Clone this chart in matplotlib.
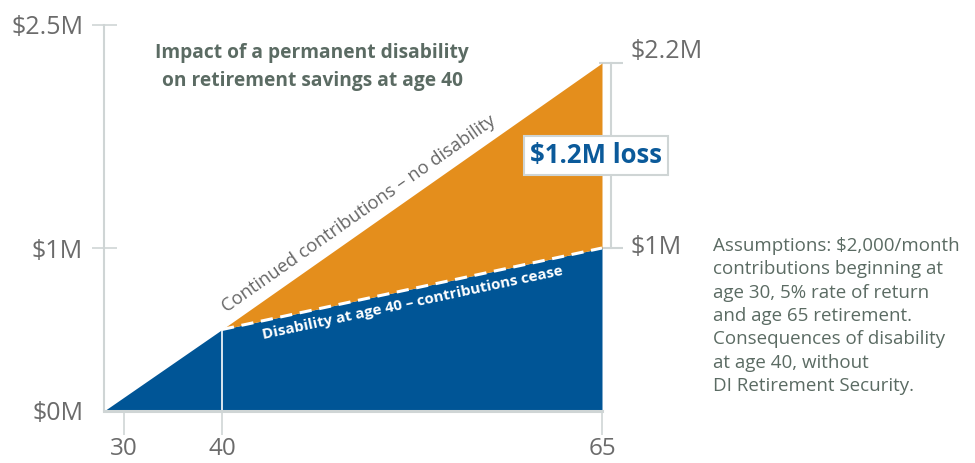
import numpy as np
import matplotlib
matplotlib.use("Agg")
import matplotlib.pyplot as plt
from matplotlib import transforms

plt.rcParams['font.family'] = ['Open Sans', 'DejaVu Sans']

# savings in $ millions by age
ages = [28, 40, 65]              # area starts at the axis origin
no_disability = [0.0, 0.5, 2.2]
with_disability = [0.0, 0.5, 1.0]
loss_label = '$1.2M loss'

x_ticks = [30, 40, 65]
y_ticks = [0, 1, 2.5]
y_tick_labels = ['$0M', '$1M', '$2.5M']
right_ticks = [1.0, 2.2]
right_labels = ['$1M', '$2.2M']

title = 'Impact of a permanent disability\non retirement savings at age 40'
top_label = 'Continued contributions \u2013 no disability'
bottom_label = 'Disability at age 40 \u2013 contributions cease'
note = ('Assumptions: $2,000/month\ncontributions beginning at\nage 30, 5% rate of return\n'
        'and age 65 retirement.\nConsequences of disability\nat age 40, without\n'
        'DI Retirement Security.')

BLUE = '#005596'
ORANGE = '#E48E1C'
GRID = '#cfd5d5'
LABEL = '#6b6b6b'
GREEN_GREY = '#5b6b63'

# the artwork is not drawn to a linear scale -> piecewise scales
age_knots, age_pos = [28, 40, 65], [0, 118, 498]
val_knots, val_pos = [0, 1, 2.2, 2.5], [0, 163, 348, 386]


def piecewise(xk, yk):
    xk = np.asarray(xk, float)
    yk = np.asarray(yk, float)
    s0 = (yk[1] - yk[0]) / (xk[1] - xk[0])
    s1 = (yk[-1] - yk[-2]) / (xk[-1] - xk[-2])

    def f(v):
        v = np.asarray(v, float)
        out = np.interp(v, xk, yk)
        out = np.where(v < xk[0], yk[0] + (v - xk[0]) * s0, out)
        out = np.where(v > xk[-1], yk[-1] + (v - xk[-1]) * s1, out)
        return out
    return f


fig = plt.figure(figsize=(9.75, 4.63), dpi=100)
W, H = 975, 463
ax = fig.add_axes([104 / W, (H - 411) / H, 498 / W, 386 / H])
ax.set_xscale('function', functions=(piecewise(age_knots, age_pos), piecewise(age_pos, age_knots)))
ax.set_yscale('function', functions=(piecewise(val_knots, val_pos), piecewise(val_pos, val_knots)))
ax.set_xlim(28, 65)
ax.set_ylim(0, 2.5)

# areas
ax.fill_between(ages, 0, with_disability, color=BLUE, lw=0, zorder=2)
ax.fill_between(ages[1:], with_disability[1:], no_disability[1:], color=ORANGE, lw=0, zorder=2)
ax.plot(ages[1:], with_disability[1:], color='white', lw=2.2, dashes=(4, 2.5), zorder=3)
ax.plot([ages[1], ages[1]], [0, with_disability[1]], color='white', lw=1.2, zorder=3)

# axes styling
for s in ['top', 'right']:
    ax.spines[s].set_visible(False)
ax.spines['left'].set_color(GRID)
ax.spines['left'].set_linewidth(1.5)
ax.spines['left'].set_bounds(0, 2.5)
ax.spines['bottom'].set_color(GRID)
ax.spines['bottom'].set_linewidth(2.2)
ax.spines['bottom'].set_zorder(4)

ax.set_xticks(x_ticks)
ax.set_xticklabels([str(a) for a in x_ticks])
ax.set_yticks(y_ticks)
ax.set_yticklabels(y_tick_labels)
ax.xaxis.set_minor_locator(matplotlib.ticker.NullLocator())
ax.yaxis.set_minor_locator(matplotlib.ticker.NullLocator())
ax.tick_params(axis='y', direction='inout', length=18, width=1.2, color=GRID,
               labelsize=18, labelcolor=LABEL, pad=6)
ax.tick_params(axis='x', direction='out', length=17, width=1.2, color=GRID,
               labelsize=17.5, labelcolor=LABEL, pad=1.5)
ax.yaxis.get_major_ticks()[0].tick1line.set_visible(False)


def screen_angle(p, q):
    a = ax.transData.transform(p)
    b = ax.transData.transform(q)
    return np.degrees(np.arctan2(b[1] - a[1], b[0] - a[0]))


def offset(ang, along, normal):
    t = np.radians(ang)
    dx = along * np.cos(t) - normal * np.sin(t)
    dy = along * np.sin(t) + normal * np.cos(t)
    return dx * 72 / 100, dy * 72 / 100


p0 = (ages[1], no_disability[1])
ang_top = screen_angle(p0, (ages[2], no_disability[2]))
ang_bot = screen_angle(p0, (ages[2], with_disability[2]))

ax.annotate(top_label, xy=p0, xytext=offset(ang_top, 14, 7), textcoords='offset points',
            rotation=ang_top, rotation_mode='anchor', ha='left', va='bottom',
            fontsize=13.2, color='#666666', zorder=5)
ax.annotate(bottom_label, xy=p0, xytext=offset(ang_bot, 38, -7), textcoords='offset points',
            rotation=ang_bot, rotation_mode='anchor', ha='left', va='top',
            fontsize=10.9, fontweight='bold', color='white', zorder=5)

# right bracket for the loss
shift = transforms.offset_copy(ax.transData, fig=fig, x=9, y=0, units='dots')
ax.plot([ages[2], ages[2]], right_ticks, color=GRID, lw=1.5, transform=shift, clip_on=False, zorder=1)
ax.plot([ages[2], ages[2]], right_ticks, ls='none', marker='_', ms=17, mew=1.5,
        color=GRID, transform=shift, clip_on=False, zorder=1)
lab_shift = transforms.offset_copy(ax.transData, fig=fig, x=28, y=0, units='dots')
ax.text(ages[2], right_ticks[0], right_labels[0], transform=lab_shift, ha='left', va='center',
        fontsize=18, color=LABEL)
lab_shift2 = transforms.offset_copy(ax.transData, fig=fig, x=28, y=11, units='dots')
ax.text(ages[2], right_ticks[1], right_labels[1], transform=lab_shift2, ha='left', va='center',
        fontsize=18, color=LABEL)

mid = (right_ticks[0] + right_ticks[1]) / 2
box_shift = transforms.offset_copy(ax.transData, fig=fig, x=-6, y=0, units='dots')
ax.text(ages[2], mid, loss_label, transform=box_shift, ha='center', va='center', fontsize=18.5,
        fontweight='bold', color='#0b5a9a', zorder=6,
        bbox=dict(boxstyle='square,pad=0.22', fc='white', ec=GRID, lw=1.5))

fig.text(312 / W, 1 - 67 / H, title, ha='center', va='center', fontsize=13.8,
         fontweight='bold', color=GREEN_GREY, linespacing=1.55)
fig.text(713 / W, 1 - 237 / H, note, ha='left', va='top', fontsize=13.5,
         color=GREEN_GREY, linespacing=1.38)

fig.savefig('out.png', dpi=100)
